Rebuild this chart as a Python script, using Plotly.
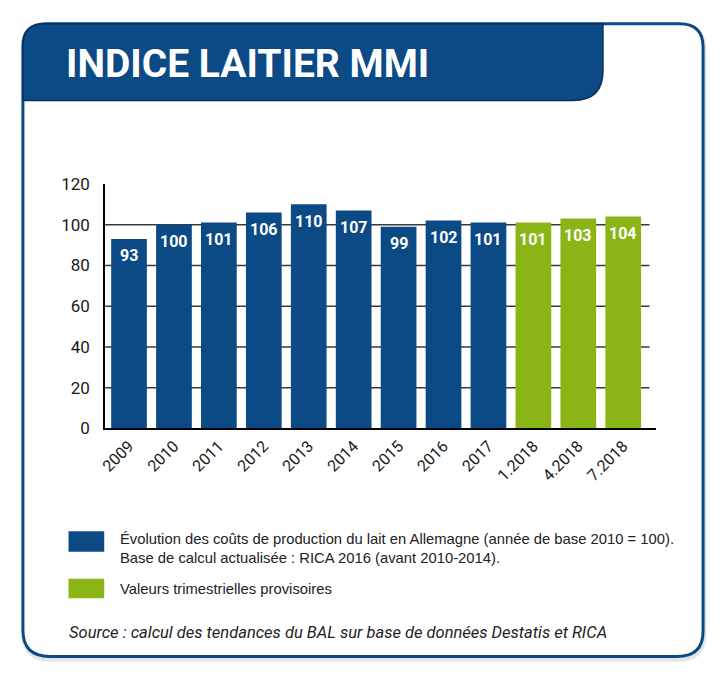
import plotly.graph_objects as go

# annual index (2010 = 100) and provisional quarterly values
years = ["2009", "2010", "2011", "2012", "2013", "2014", "2015", "2016", "2017"]
year_values = [93, 100, 101, 106, 110, 107, 99, 102, 101]
quarters = ["1.2018", "4.2018", "7.2018"]
quarter_values = [101, 103, 104]
y_ticks = [0, 20, 40, 60, 80, 100, 120]
grid_values = [20, 40, 60, 80, 100]

BLUE = "#0c4a86"
GREEN = "#8bb516"
# the page body keeps its default 8px margin, so the figure is 16px smaller
# than the window and positions below are given in window pixels
OFF = 8
W, H = 720 - 2 * OFF, 688 - 2 * OFF


def px(x):
    return (x - OFF) / W


def py(y):
    return 1 - (y - OFF) / H


def rounded_path(l, t, r, b, radii):
    """closed rounded rect in paper coords, radii = (tl, tr, br, bl) in px"""
    tl, tr, br, bl = radii
    pts = [
        f"M {px(l)} {py(t + tl)}",
        f"Q {px(l)} {py(t)} {px(l + tl)} {py(t)}",
        f"L {px(r - tr)} {py(t)}",
        f"Q {px(r)} {py(t)} {px(r)} {py(t + tr)}",
        f"L {px(r)} {py(b - br)}",
        f"Q {px(r)} {py(b)} {px(r - br)} {py(b)}",
        f"L {px(l + bl)} {py(b)}",
        f"Q {px(l)} {py(b)} {px(l)} {py(b - bl)}",
        "Z",
    ]
    return " ".join(pts)


cats = years + quarters

fig = go.Figure()
fig.add_trace(go.Bar(x=years, y=year_values, marker=dict(color=BLUE, line=dict(width=0)),
                     width=0.795, hoverinfo="x+y"))
fig.add_trace(go.Bar(x=quarters, y=quarter_values, marker=dict(color=GREEN, line=dict(width=0)),
                     width=0.795, hoverinfo="x+y"))

shapes = []
# shadow + frame
shapes.append(dict(type="path", xref="paper", yref="paper",
                   path=rounded_path(18, 17, 704, 669, (23, 24, 26, 27)),
                   line=dict(color="rgba(0,0,0,0.10)", width=5), layer="below"))
shapes.append(dict(type="path", xref="paper", yref="paper",
                   path=rounded_path(17, 14, 703, 666, (23, 24, 26, 27)),
                   fillcolor="white", line=dict(color=BLUE, width=3), layer="below"))
# header block
header = (f"M {px(17)} {py(93)} L {px(17)} {py(37)} "
          f"Q {px(17)} {py(14)} {px(40)} {py(14)} L {px(602)} {py(14)} "
          f"L {px(602)} {py(63)} Q {px(602)} {py(93)} {px(572)} {py(93)} Z")
shapes.append(dict(type="path", xref="paper", yref="paper", path=header,
                   fillcolor=BLUE, line=dict(color="#082f58", width=1.5), layer="below"))
# grid lines
for g in grid_values:
    shapes.append(dict(type="line", xref="paper", yref="y", x0=px(100), x1=px(649), y0=g, y1=g,
                       line=dict(color="#3a3a3a", width=1.5), layer="below"))
# legend swatches
shapes.append(dict(type="rect", xref="paper", yref="paper", x0=px(63), x1=px(99),
                   y0=py(558), y1=py(537), fillcolor=BLUE, line=dict(width=0)))
shapes.append(dict(type="rect", xref="paper", yref="paper", x0=px(63), x1=px(99),
                   y0=py(606), y1=py(586), fillcolor=GREEN, line=dict(width=0)))

annotations = []
annotations.append(dict(text="<b>INDICE LAITIER MMI</b>", xref="paper", yref="paper",
                        x=px(58), y=py(55), xanchor="left", yanchor="middle", showarrow=False,
                        font=dict(family="Roboto", size=39, color="white")))
# value labels; x given as category index since labels like "1.2018" read as numbers
for c, v in zip(years + quarters, year_values + quarter_values):
    annotations.append(dict(text=f"<b>{v}</b>", x=cats.index(c), y=v, xref="x", yref="y",
                            yshift=-17, showarrow=False,
                            font=dict(family="Roboto", size=16, color="white")))
annotations.append(dict(
    text="Évolution des coûts de production du lait en Allemagne (année de base 2010 = 100).<br>"
         "Base de calcul actualisée : RICA 2016 (avant 2010-2014).",
    xref="paper", yref="paper", x=px(113), y=py(555), xanchor="left", yanchor="middle",
    align="left", showarrow=False, font=dict(family="Liberation Sans", size=14.8, color="#222")))
annotations.append(dict(text="Valeurs trimestrielles provisoires", xref="paper", yref="paper",
                        x=px(113), y=py(597), xanchor="left", yanchor="middle", showarrow=False,
                        font=dict(family="Liberation Sans", size=14.8, color="#222")))
annotations.append(dict(text="<i>Source : calcul des tendances du BAL sur base de données Destatis et RICA</i>",
                        xref="paper", yref="paper", x=px(61), y=py(641), xanchor="left",
                        yanchor="middle", showarrow=False,
                        font=dict(family="Roboto", size=16.5, color="#222")))

fig.update_layout(
    width=W, height=H,
    margin=dict(l=0, r=0, t=0, b=0),
    paper_bgcolor="white", plot_bgcolor="rgba(0,0,0,0)",
    barmode="overlay", showlegend=False,
    shapes=shapes, annotations=annotations,
    xaxis=dict(domain=[px(100), px(656)], type="category", categoryorder="array",
               categoryarray=cats, range=[-0.53, 11.74], showline=True, linecolor="black",
               linewidth=2, showgrid=False, tickangle=-45, ticks="",
               tickfont=dict(family="Roboto", size=16, color="#1a1a1a")),
    yaxis=dict(domain=[py(431), py(179)], range=[0, 120], tickvals=y_ticks, showline=True,
               linecolor="black", linewidth=2, showgrid=False, zeroline=False, ticks="",
               ticklabelstandoff=10,
               tickfont=dict(family="Roboto", size=17, color="#1a1a1a")),
)

fig.write_html("out.html")
